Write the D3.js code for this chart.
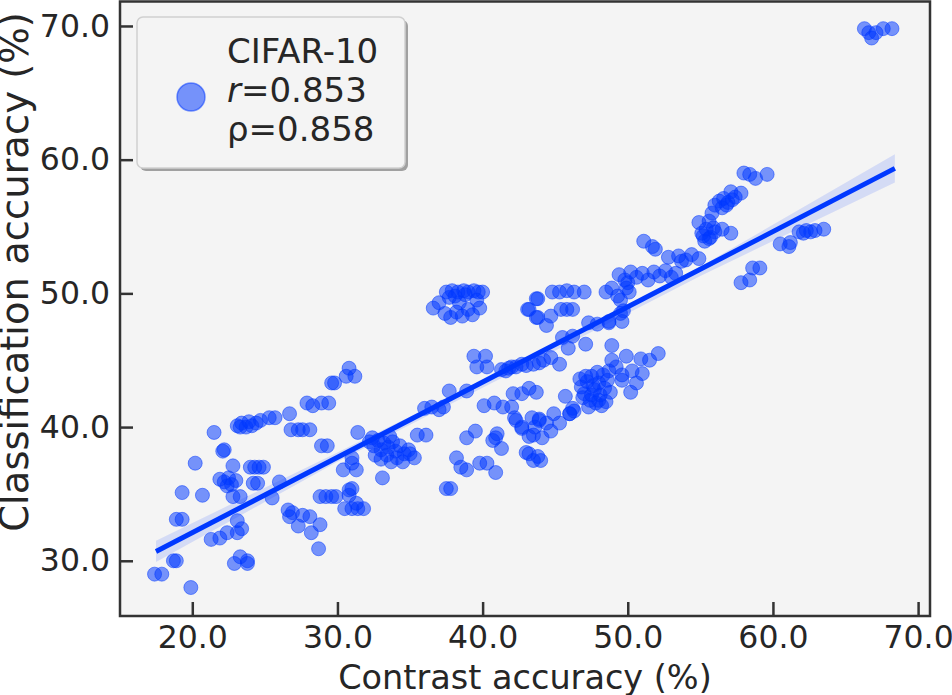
<!DOCTYPE html>
<html>
<head>
<meta charset="utf-8">
<script src="https://cdn.jsdelivr.net/npm/d3@7"></script>
<style>
  body { margin: 0; background: #fff; }
  text { font-family: "DejaVu Sans", sans-serif; fill: #262626; }
</style>
</head>
<body>
<div id="chart"></div>
<script>
// contrast accuracy (x) / classification accuracy (y)
const contrastAcc = [
  17.4, 17.9, 18.7, 18.9, 19.9, 21.3, 18.9, 19.3, 19.3, 20.7, 20.2, 21.5, 22.1, 22.2, 21.9, 22.2, 22.5, 22.7, 23.0, 22.4,
  22.8, 22.8, 23.3, 23.1, 23.4, 23.1, 22.4, 21.9, 23.3, 23.8, 22.9, 23.8, 24.0, 24.3, 24.6, 24.9, 24.2, 24.5, 23.1, 23.4,
  23.7, 23.9, 24.1, 24.4, 23.3, 24.7, 25.3, 25.7, 26.7, 26.8, 27.3, 27.6, 28.1, 27.9, 28.3, 28.9, 29.4, 29.6, 29.8, 30.8,
  30.6, 31.2, 28.9, 29.3, 26.0, 25.5, 26.6, 26.9, 26.7, 27.6, 28.1, 27.3, 28.2, 28.8, 28.7, 28.8, 29.2, 29.6, 29.9, 30.8,
  31.0, 30.5, 31.0, 31.4, 31.8, 31.3, 30.4, 31.0, 31.4, 31.0, 30.8, 31.3,
  32.2, 32.5, 32.8, 33.0, 33.2, 33.5, 33.8, 34.0, 34.3, 34.6, 32.6, 33.0, 33.4, 33.7, 34.1, 34.5, 32.4, 33.6, 34.9, 33.1,
  35.0, 35.3,
  36.0, 36.5, 37.0, 37.3, 35.5, 36.1, 37.7, 38.9, 37.5, 37.8, 38.2, 38.5, 38.9, 39.8, 40.3, 40.9, 38.9, 39.5, 41.0, 40.7,
  41.3, 40.9, 42.2, 42.7, 43.2, 43.6, 43.9, 43.0, 43.2, 43.5, 44.0, 43.8, 39.4, 40.2, 39.6, 40.3, 41.3, 41.8, 42.3, 43.0,
  43.9, 40.1, 40.8, 41.4, 42.0, 42.1, 42.7, 43.2, 43.7, 42.3, 42.7, 43.4, 43.9, 44.4, 44.9, 45.3, 46.0, 46.3, 43.5, 44.1,
  44.7, 45.7, 46.2, 46.0,
  37.5, 37.9, 38.3, 38.7, 39.0, 39.4, 39.7, 40.0, 38.1, 38.8, 36.6, 37.0, 37.4, 37.8, 38.2, 38.6, 39.0, 39.3, 39.8, 38.4,
  39.6, 37.7,
  43.2, 43.7, 43.7, 44.8, 45.3, 45.8, 46.3, 47.0, 43.8, 43.1, 43.8, 44.4, 44.7, 45.4, 45.8, 46.2, 47.3, 47.9, 48.7, 49.6,
  49.7, 45.5, 46.2, 47.1, 45.9, 45.3, 44.7, 44.2, 43.5, 42.7, 42.0, 41.6, 48.9, 49.9, 50.9, 52.1, 51.5, 48.9, 49.2, 49.6,
  50.3, 51.0, 50.6, 50.2, 49.6,
  46.8, 47.0, 47.2, 47.4, 47.5, 47.7, 47.8, 48.0, 48.1, 48.3, 48.4, 48.5, 48.6, 47.3, 47.9, 46.9, 48.8, 47.6, 48.2, 47.1,
  48.0, 47.5, 46.7, 48.7,
  58.0, 58.4, 58.8, 59.6, 57.1, 57.8, 56.0, 56.3, 56.6, 56.9, 57.2, 56.5, 56.8, 57.4, 55.8, 55.6, 54.9, 55.1, 55.4, 55.7,
  56.0, 55.3, 55.6, 55.9, 55.2, 56.5, 57.1, 51.1, 51.7, 51.9, 52.8, 53.5, 54.0, 54.4, 54.9, 53.7, 49.4, 49.8, 50.2, 50.6,
  51.0, 51.4, 51.8, 52.2, 52.6, 53.0, 53.3, 50.0, 48.5, 48.9, 49.3, 49.9, 50.1, 49.5, 49.5, 48.7, 57.8, 58.4, 58.6, 59.1,
  60.5, 61.1, 61.2, 61.8, 62.1, 62.3, 62.6, 62.9, 63.5, 66.3, 66.6, 66.8, 67.1, 67.6, 68.2
];
const classAcc = [
  29.0, 29.0, 30.0, 30.0, 28.0, 31.6, 33.1, 33.1, 35.1, 34.9, 37.3, 39.6, 38.2, 38.3, 36.1, 35.9, 36.2, 35.7, 36.0, 35.6,
  37.1, 34.8, 34.8, 33.0, 32.4, 32.1, 32.1, 31.7, 30.3, 30.0, 29.8, 29.8, 37.0, 37.0, 37.0, 37.0, 35.8, 35.8, 40.1, 40.3,
  40.0, 40.4, 40.1, 40.3, 40.0, 40.5, 40.7, 40.7, 41.0, 39.8, 39.8, 39.8, 39.8, 41.8, 41.6, 41.8, 41.8, 43.3, 43.3, 44.4,
  43.8, 43.8, 38.6, 38.6, 35.9, 34.7, 33.8, 33.6, 33.3, 33.4, 33.3, 32.6, 32.1, 32.7, 30.9, 34.8, 34.8, 34.8, 34.8, 34.9,
  35.4, 33.9, 33.9, 33.9, 33.9, 36.8, 36.8, 37.3, 39.6, 37.7, 35.3, 34.3,
  38.9, 38.6, 39.0, 38.3, 38.8, 38.5, 38.9, 38.2, 38.6, 38.0, 37.9, 37.6, 37.9, 37.4, 37.7, 37.4, 39.2, 39.3, 38.3, 36.2,
  38.0, 37.7,
  41.4, 41.5, 41.3, 41.5, 39.4, 39.4, 42.7, 42.7, 35.4, 35.4, 37.7, 37.0, 36.8, 37.3, 37.3, 36.6, 39.2, 39.7, 39.5, 39.0,
  38.4, 39.2, 40.7, 40.0, 39.3, 40.0, 40.6, 38.1, 38.0, 37.5, 37.5, 37.8, 45.3, 45.3, 44.5, 44.5, 44.3, 44.4, 44.5, 44.6,
  44.8, 41.6, 41.8, 41.5, 41.5, 42.5, 42.5, 42.9, 42.6, 40.5, 39.9, 40.7, 40.5, 40.3, 41.0, 40.3, 41.0, 41.2, 39.4, 39.2,
  39.7, 42.3, 41.4, 41.0,
  50.1, 50.2, 50.1, 50.2, 50.1, 50.2, 50.1, 50.1, 49.8, 49.9, 48.9, 49.3, 48.5, 48.2, 48.6, 48.3, 48.8, 48.4, 48.9, 49.3,
  49.5, 49.7,
  48.8, 49.6, 48.2, 50.1, 50.1, 50.2, 50.1, 50.1, 49.6, 48.8, 48.2, 47.6, 48.3, 48.8, 48.8, 48.8, 47.8, 47.7, 47.9, 47.9,
  48.7, 46.7, 46.8, 46.2, 45.9, 44.7, 45.2, 45.0, 44.7, 44.7, 44.5, 44.2, 46.1, 45.3, 45.1, 45.5, 45.0, 45.0, 44.5, 43.9,
  44.2, 44.0, 43.3, 42.6, 43.5,
  43.0, 42.5, 43.4, 42.0, 43.8, 42.8, 41.8, 43.3, 42.4, 43.9, 42.9, 41.9, 43.5, 41.5, 44.1, 42.2, 42.6, 43.1, 41.6, 43.8,
  42.0, 42.4, 43.6, 44.2,
  59.0, 58.9, 58.6, 58.9, 57.6, 57.5, 56.6, 56.9, 57.1, 56.8, 57.0, 56.4, 56.6, 57.2, 56.0, 55.4, 55.3, 54.5, 54.8, 54.2,
  54.6, 53.9, 54.1, 54.9, 54.3, 54.8, 54.5, 53.9, 53.5, 53.3, 52.7, 52.8, 52.5, 52.9, 52.6, 52.4, 51.4, 51.0, 51.6, 51.2,
  51.5, 51.0, 51.6, 51.3, 51.7, 51.2, 51.5, 50.8, 50.1, 50.4, 49.8, 50.4, 50.1, 49.5, 48.5, 47.8, 50.8, 51.0, 51.9, 51.9,
  53.7, 53.5, 53.8, 54.6, 54.5, 54.7, 54.6, 54.7, 54.8, 69.8, 69.5, 69.1, 69.5, 69.8, 69.8
];

// fitted line and its confidence band
const fitX = [17.5, 68.4];
const fitY = [30.7, 59.35];
const bandX = [17.5, 30, 43, 55, 68.4];
const bandLow = [29.9, 37.4, 44.6, 51.3, 58.3];
const bandHigh = [31.5, 38.1, 45.1, 52.0, 60.4];

const xTicks = [20, 30, 40, 50, 60, 70];
const yTicks = [30, 40, 50, 60, 70];
const legendLines = ["CIFAR-10", "r=0.853", "ρ=0.858"];

const W = 952, H = 695;
const padL = 120, padR = 930, padT = 1.5, padB = 616;
const blue = "#0038ff";
const ink = "#333333";

const svg = d3.select("#chart").append("svg")
    .attr("width", W)
    .attr("height", H);

const x = d3.scaleLinear().domain([15.02, 70.82]).range([padL, padR]);
const y = d3.scaleLinear().domain([25.87, 71.83]).range([padB, padT]);

// plot background
svg.append("rect")
    .attr("x", padL).attr("y", padT)
    .attr("width", padR - padL).attr("height", padB - padT)
    .attr("fill", "#f4f4f4");

// scatter
const pts = contrastAcc.map((v, i) => [v, classAcc[i]]);
svg.append("g")
    .selectAll("circle")
    .data(pts)
    .enter()
    .append("circle")
    .attr("cx", d => x(d[0]))
    .attr("cy", d => y(d[1]))
    .attr("r", 7)
    .attr("fill", blue)
    .attr("fill-opacity", 0.52)
    .attr("stroke", blue)
    .attr("stroke-opacity", 0.5)
    .attr("stroke-width", 1);

// confidence band
const band = d3.area()
    .x((d, i) => x(bandX[i]))
    .y0((d, i) => y(bandLow[i]))
    .y1((d, i) => y(bandHigh[i]));
svg.append("path")
    .attr("d", band(bandX))
    .attr("fill", blue)
    .attr("fill-opacity", 0.13);

// fitted line
const line = d3.line()
    .x((d, i) => x(fitX[i]))
    .y((d, i) => y(fitY[i]));
svg.append("path")
    .attr("d", line(fitX))
    .attr("fill", "none")
    .attr("stroke", blue)
    .attr("stroke-width", 5);

// axes (ticks point inward)
const fmt = d3.format(".1f");
const gx = svg.append("g")
    .attr("transform", "translate(0," + padB + ")")
    .call(d3.axisBottom(x).tickValues(xTicks).tickFormat(fmt)
        .tickSizeInner(-14).tickSizeOuter(0).tickPadding(10));
const gy = svg.append("g")
    .attr("transform", "translate(" + padL + ",0)")
    .call(d3.axisLeft(y).tickValues(yTicks).tickFormat(fmt)
        .tickSizeInner(-13).tickSizeOuter(0).tickPadding(10));
[gx, gy].forEach(g => {
    g.select(".domain").remove();
    g.selectAll(".tick line").attr("stroke", ink).attr("stroke-width", 2.5);
    g.selectAll(".tick text")
        .attr("fill", "#262626")
        .style("font-size", "31.5px")
        .style("font-family", "DejaVu Sans");
});

// spines
svg.append("rect")
    .attr("x", padL).attr("y", padT)
    .attr("width", padR - padL).attr("height", padB - padT)
    .attr("fill", "none")
    .attr("stroke", ink)
    .attr("stroke-width", 2.5);

// axis labels
svg.append("text")
    .attr("x", (padL + padR) / 2)
    .attr("y", 689)
    .attr("text-anchor", "middle")
    .style("font-size", "33.5px")
    .text("Contrast accuracy (%)");
svg.append("text")
    .attr("transform", "translate(28,272) rotate(-90)")
    .attr("text-anchor", "middle")
    .style("font-size", "38.5px")
    .text("Classification accuracy (%)");

// legend
const lg = svg.append("g");
lg.append("rect")
    .attr("x", 140).attr("y", 20)
    .attr("width", 268).attr("height", 151)
    .attr("rx", 6)
    .attr("fill", "#a0a0a0");
lg.append("rect")
    .attr("x", 137).attr("y", 17)
    .attr("width", 268).attr("height", 151)
    .attr("rx", 6)
    .attr("fill", "#f4f4f4")
    .attr("stroke", "#d0d0d0")
    .attr("stroke-width", 1.5);
lg.append("circle")
    .attr("cx", 191).attr("cy", 97)
    .attr("r", 14)
    .attr("fill", blue)
    .attr("fill-opacity", 0.52)
    .attr("stroke", blue)
    .attr("stroke-opacity", 0.5)
    .attr("stroke-width", 1.5);
const lt = lg.append("text")
    .attr("x", 227)
    .style("font-size", "34px");
legendLines.forEach((s, i) => {
    const ts = lt.append("tspan").attr("x", 227).attr("y", 63 + i * 39);
    if (s.startsWith("r=")) {
        ts.append("tspan").style("font-style", "italic").text("r");
        ts.append("tspan").text(s.slice(1));
    } else {
        ts.text(s);
    }
});
</script>
</body>
</html>
